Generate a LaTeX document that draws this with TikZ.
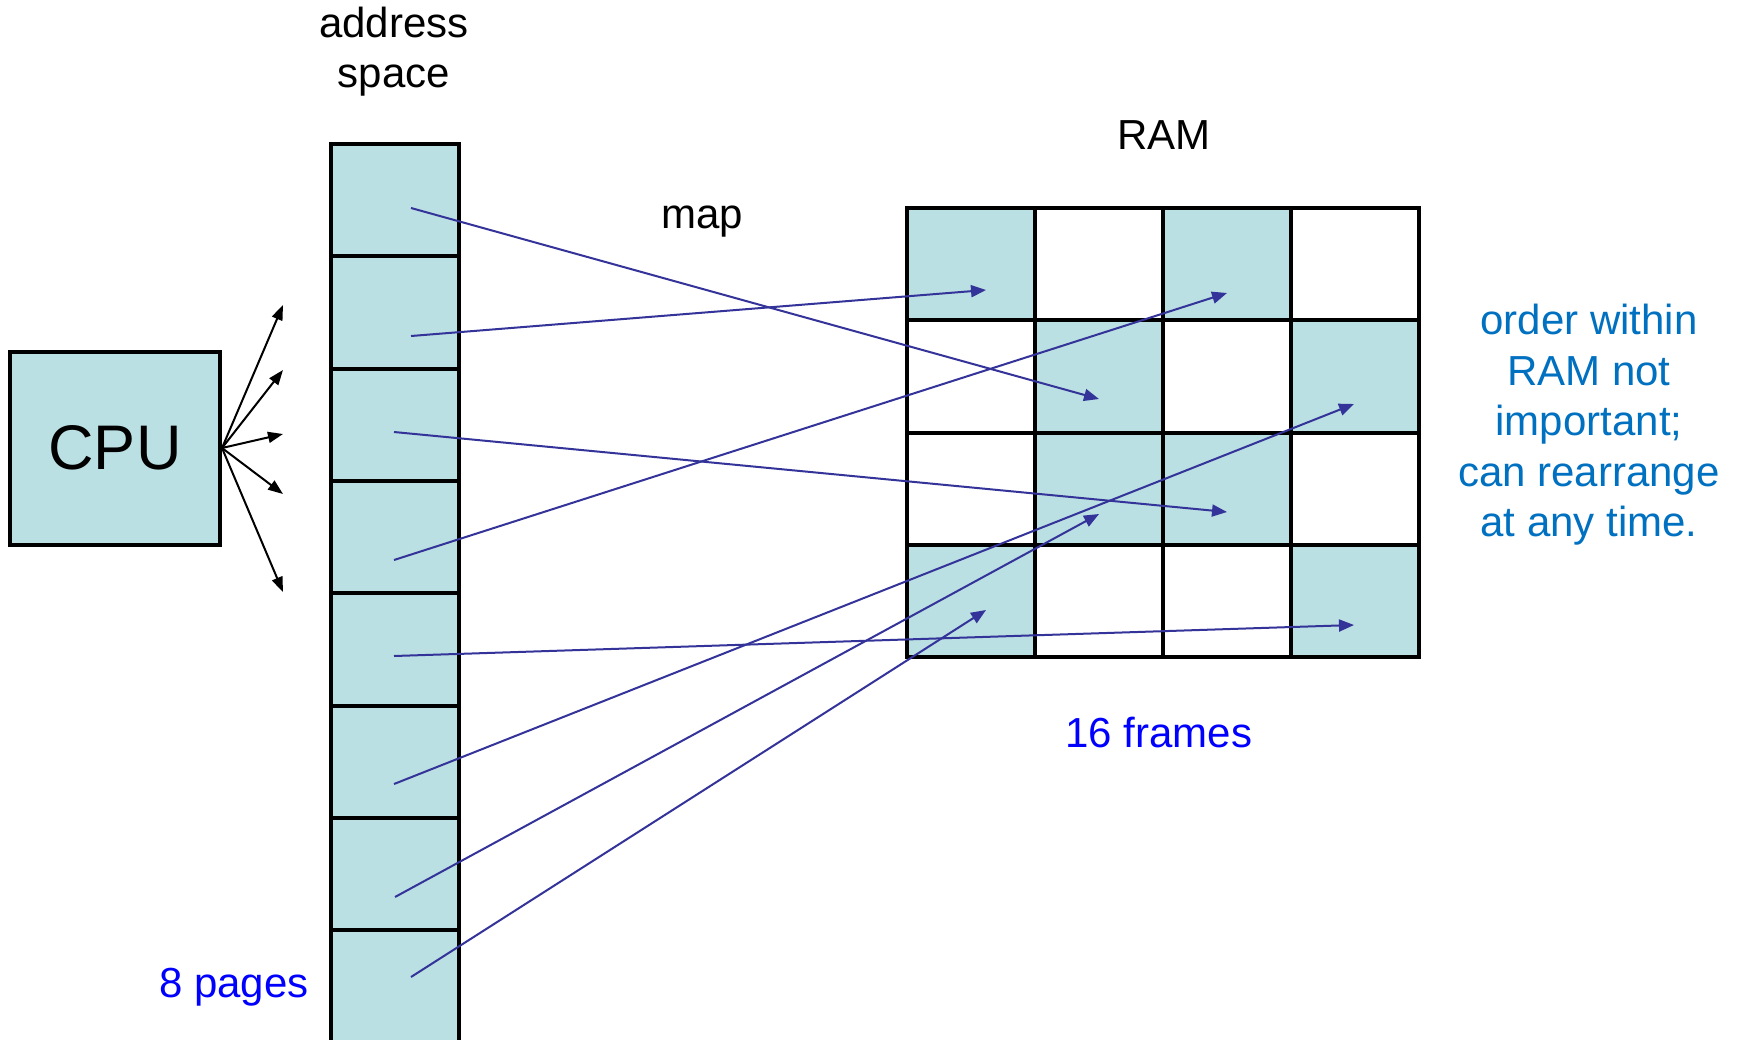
\documentclass[tikz,border=0pt]{standalone}
\usepackage{fontspec}
\setmainfont{Liberation Sans}
\usetikzlibrary{arrows.meta}
\definecolor{cellblue}{HTML}{BBE0E3}
\definecolor{mapblue}{HTML}{333399}
\definecolor{labelblue}{HTML}{0000FF}
\definecolor{noteblue}{HTML}{0070C0}
\begin{document}
\begin{tikzpicture}[x=1pt,y=-1pt,
  pagecell/.style={draw=black,line width=4pt,fill=cellblue,minimum width=128pt,minimum height=112.3pt,inner sep=0pt,outer sep=0pt},
  framecell/.style={draw=black,line width=4pt,minimum width=128.1pt,minimum height=112.3pt,inner sep=0pt,outer sep=0pt},
  cpubox/.style={draw=black,line width=4pt,fill=cellblue,minimum width=210pt,minimum height=193pt,inner sep=0pt,font=\fontsize{63}{70}\selectfont},
  lbl/.style={inner sep=0pt,font=\fontsize{42}{50}\selectfont},
  maparrow/.style={draw=mapblue,line width=2pt,-{Triangle[length=15pt,width=12pt]}},
  busarrow/.style={draw=black,line width=2pt,-{Triangle[length=15pt,width=11pt]}}]
\useasboundingbox (0,0) rectangle (1742,1039);
\clip (0,0) rectangle (1742,1039);
\fill[white] (0,0) rectangle (1742,1039);

% CPU
\node[cpubox] (cpu) at (115,448) {CPU};
\coordinate (b1) at (283,305);
\coordinate (b2) at (283,370);
\coordinate (b3) at (283,434);
\coordinate (b4) at (283,494);
\coordinate (b5) at (283,592);
\foreach \b in {b1,b2,b3,b4,b5} \draw[busarrow] (cpu.east) -- (\b);

% address space
\foreach \i in {0,...,8} \node[pagecell] (p\i) at (395,{200.3+112.3*\i}) {};

% RAM grid
\foreach \r/\c/\f in {0/0/cellblue,0/1/white,0/2/cellblue,0/3/white,
                      1/0/white,1/1/cellblue,1/2/white,1/3/cellblue,
                      2/0/white,2/1/cellblue,2/2/cellblue,2/3/white,
                      3/0/cellblue,3/1/white,3/2/white,3/3/cellblue}
  \node[framecell,fill=\f] (f\r\c) at ({970.75+128.1*\c},{264.2+112.3*\r}) {};

% labels
\node[lbl,align=center] (addr) at (394,52) {address\\space};
\node[lbl,anchor=base] (map) at (702,228) {map};
\node[lbl,anchor=base] (ram) at (1164,149) {RAM};
\node[lbl,anchor=base,text=labelblue] (frames) at (1159,747) {16 frames};
\node[lbl,anchor=base,text=labelblue] (pages) at (234,997) {8 pages};
\node[inner sep=0pt,align=center,text=noteblue,font=\fontsize{42}{50.5}\selectfont] (note) at (1589,425)
  {order within\\RAM not\\important;\\can rearrange\\at any time.};

% arrow start points
\coordinate (s0) at (411,208);
\coordinate (s1) at (411,336);
\coordinate (s2) at (394,432);
\coordinate (s3) at (394,560);
\coordinate (s4) at (394,656);
\coordinate (s5) at (394,784);
\coordinate (s6) at (395,897);
\coordinate (s7) at (411,977);
% arrow tips
\coordinate (t00) at (986,290);
\coordinate (t02) at (1227,293);
\coordinate (t11) at (1099,399);
\coordinate (t13) at (1354,404);
\coordinate (t22) at (1227,512);
\coordinate (t21) at (1099,514);
\coordinate (t30) at (986,610);
\coordinate (t33) at (1354,625);

\draw[maparrow] (s0) -- (t11);
\draw[maparrow] (s1) -- (t00);
\draw[maparrow] (s2) -- (t22);
\draw[maparrow] (s3) -- (t02);
\draw[maparrow] (s4) -- (t33);
\draw[maparrow] (s5) -- (t13);
\draw[maparrow] (s6) -- (t21);
\draw[maparrow] (s7) -- (t30);
\end{tikzpicture}
\end{document}
